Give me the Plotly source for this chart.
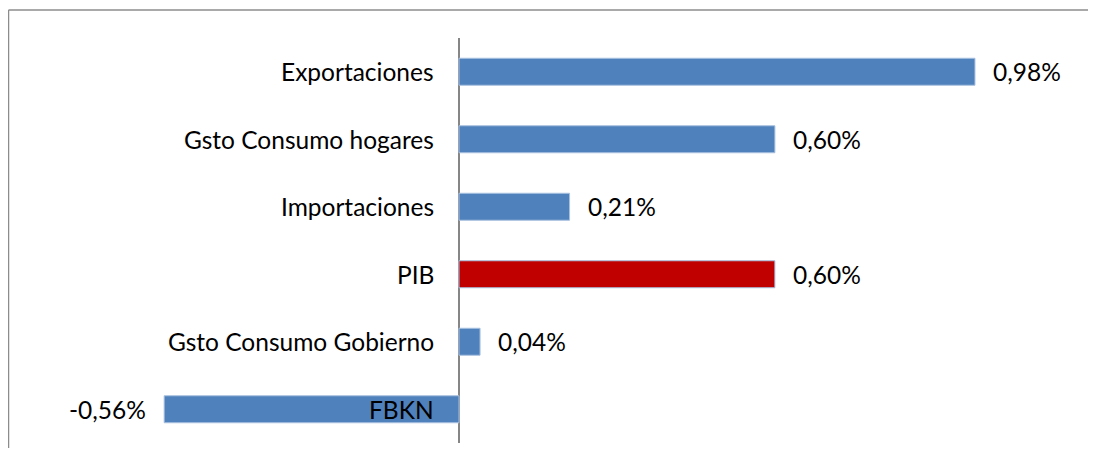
import plotly.graph_objects as go

categories = ["Exportaciones", "Gsto Consumo hogares", "Importaciones", "PIB",
              "Gsto Consumo Gobierno", "FBKN"]
values = [0.98, 0.60, 0.21, 0.60, 0.04, -0.56]
value_labels = ["0,98%", "0,60%", "0,21%", "0,60%", "0,04%", "-0,56%"]
bar_colors = ["#4F81BD", "#4F81BD", "#4F81BD", "#C00000", "#4F81BD", "#4F81BD"]

FONT = "Lato"
FS = 24.5

fig = go.Figure()
fig.add_trace(go.Bar(
    y=categories, x=values, orientation="h",
    marker=dict(color=bar_colors, line=dict(color="#A9C1DF", width=1)),
    hoverinfo="skip",
))

annotations = []
for c, v, t in zip(categories, values, value_labels):
    annotations.append(dict(x=0, y=c, xref="x", yref="y", text=c, showarrow=False,
                            xanchor="right", xshift=-23,
                            font=dict(family=FONT, size=FS, color="#000000")))
    annotations.append(dict(x=v, y=c, xref="x", yref="y", text=t, showarrow=False,
                            xanchor="left" if v >= 0 else "right",
                            xshift=16 if v >= 0 else -16,
                            font=dict(family=FONT, size=FS, color="#000000")))

# page is offset by 8px body margin
X0 = 451  # zero position in figure pixels
PX = 526.5  # pixels per unit
L, R, T, B = 140, 20, 30, 5
W, H = 1080, 440
pw, ph = W - L - R, H - T - B
bx = (0.5 - L) / pw
by = 1 + (T - 2) / ph

fig.update_layout(
    width=W, height=H,
    margin=dict(l=L, r=R, t=T, b=B),
    paper_bgcolor="white", plot_bgcolor="white",
    showlegend=False,
    bargap=0.6,
    xaxis=dict(range=[-(X0 - L) / PX, (L + pw - X0) / PX],
               showgrid=False, showticklabels=False, ticks="",
               zeroline=True, zerolinecolor="#868686", zerolinewidth=1.5,
               showline=False, fixedrange=True),
    yaxis=dict(categoryorder="array", categoryarray=categories,
               autorange="reversed", showticklabels=False, ticks="",
               showgrid=False, zeroline=False, showline=False),
    annotations=annotations,
    shapes=[
        dict(type="line", xref="paper", yref="paper", x0=bx, x1=1.0 + R / pw, y0=by, y1=by,
             line=dict(color="#8C8C8C", width=1.5)),
        dict(type="line", xref="paper", yref="paper", x0=bx, x1=bx, y0=by, y1=-B / ph,
             line=dict(color="#8C8C8C", width=1.5)),
    ],
)

fig.write_html("out.html")
